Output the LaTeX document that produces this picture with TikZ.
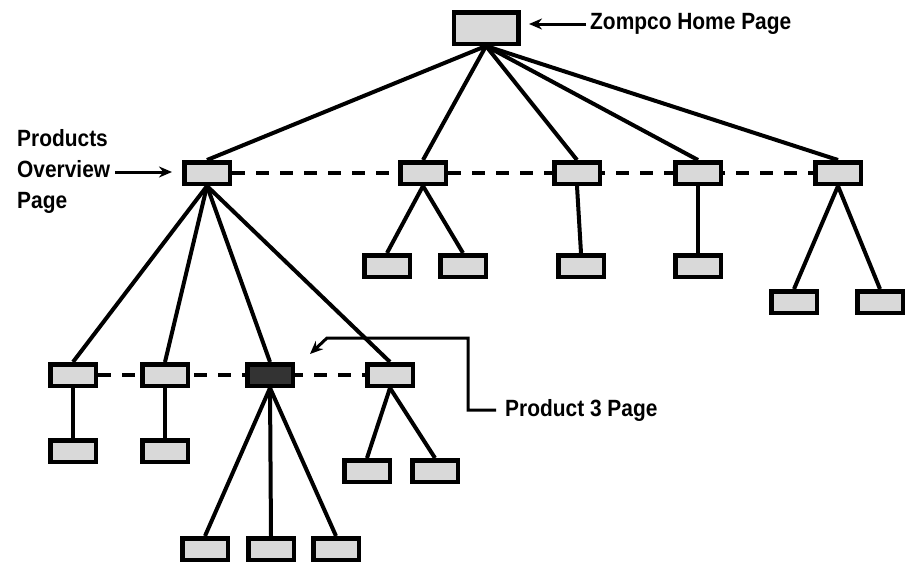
\documentclass[tikz,border=0pt]{standalone}
\usepackage{fontspec}
\setmainfont{Liberation Sans}
\newfontfamily\lblfont{Liberation Sans}[FakeStretch=0.89]
\usetikzlibrary{arrows.meta,backgrounds}
\definecolor{boxgray}{HTML}{D9D9D9}
\definecolor{boxdark}{HTML}{333333}
\begin{document}
\begin{tikzpicture}[x=1pt,y=-1pt,
  pg/.style={draw,line width=4.5pt,fill=boxgray,minimum width=45.5pt,minimum height=21.5pt,inner sep=0pt},
  homepg/.style={pg,minimum width=64.5pt,minimum height=31.5pt},
  curpg/.style={pg,fill=boxdark},
  link/.style={line width=4pt},
  sibling/.style={line width=4pt,dash pattern=on 13pt off 11pt},
  callout/.style={line width=3pt,-{Stealth[length=13pt,width=11pt]}},
  lbl/.style={font=\lblfont\fontsize{23.5}{31}\selectfont\bfseries,inner sep=0pt,align=left}]
\useasboundingbox (0,0) rectangle (911,565);

% home page
\node[homepg] (home) at (486,28) {};

% first level
\node[pg] (ov) at (207,173) {};
\node[pg] (b) at (423,173) {};
\node[pg] (c) at (577,173) {};
\node[pg] (d) at (698,173) {};
\node[pg] (e) at (838,173) {};

% children of the first level
\node[pg] (b1) at (387,266) {};
\node[pg] (b2) at (463,266) {};
\node[pg] (c1) at (581,266) {};
\node[pg] (d1) at (698,266) {};
\node[pg] (e1) at (794,302) {};
\node[pg] (e2) at (880,302) {};

% product pages
\node[pg] (p1) at (73,375) {};
\node[pg] (p2) at (165,375) {};
\node[curpg] (p3) at (270,375) {};
\node[pg] (p4) at (390,375) {};

% product sub pages
\node[pg] (p1a) at (73,451) {};
\node[pg] (p2a) at (165,451) {};
\node[pg] (p4a) at (367,471) {};
\node[pg] (p4b) at (435,471) {};
\node[pg] (p3a) at (205,549) {};
\node[pg] (p3b) at (271,549) {};
\node[pg] (p3c) at (336,549) {};

\begin{scope}[on background layer]
  \foreach \t in {ov,b,c,d,e} \draw[link] (home.south) -- (\t.north);
  \foreach \t in {p1,p2,p3,p4} \draw[link] (ov.south) -- (\t.north);
  \foreach \t in {b1,b2} \draw[link] (b.south) -- (\t.north);
  \draw[link] (c.south) -- (c1.north);
  \draw[link] (d.south) -- (d1.north);
  \foreach \t in {e1,e2} \draw[link] (e.south) -- (\t.north);
  \draw[link] (p1.south) -- (p1a.north);
  \draw[link] (p2.south) -- (p2a.north);
  \foreach \t in {p4a,p4b} \draw[link] (p4.south) -- (\t.north);
  \foreach \t in {p3a,p3b,p3c} \draw[link] (p3.south) -- (\t.north);
  \draw[sibling] (ov.east) -- (e.west);
  \draw[sibling] (p1.east) -- (p4.west);
\end{scope}

% labels and callouts
\node[lbl,anchor=west] (homelbl) at (590,24) {Zompco Home Page};
\coordinate (hltail) at (586,24);
\coordinate (hltip) at (529,24);
\draw[callout] (hltail) -- (hltip);
\node[lbl,anchor=west] (ovlbl) at (17,171) {Products\\Overview\\Page};
\coordinate (ovtail) at (115,172);
\coordinate (ovtip) at (172,172);
\draw[callout] (ovtail) -- (ovtip);
\node[lbl,anchor=west] (p3lbl) at (505,410) {Product 3 Page};
\coordinate (p3tail) at (496,410);
\coordinate (p3tip) at (310,354);
\draw[callout] (p3tail) -- (468,410) -- (468,338) -- (327,338) -- (p3tip);
\end{tikzpicture}
\end{document}
